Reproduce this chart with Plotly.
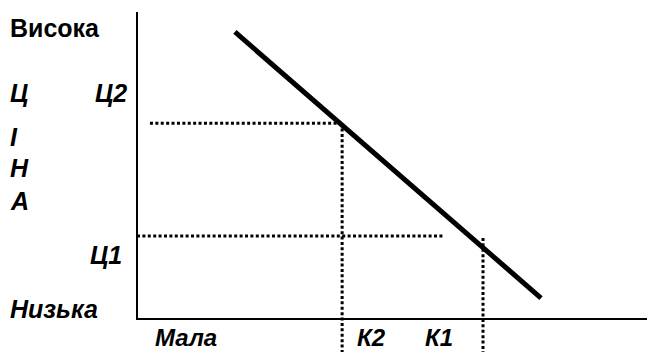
import plotly.graph_objects as go

# Abstract quantity (x) and price (y) units
axis_x = [0, 0, 10]
axis_y = [10, 0, 0]

demand_q = [1.89, 7.80]
demand_p = [9.35, 0.68]

# guide points
p2 = 6.38   # Ц2
q2 = 3.96   # К2
p1 = 2.70   # Ц1
q1 = 6.68   # К1
p1_line = 2.64
bottom = -1.2
upper_start = 0.25
lower_end = 5.91

y_labels = ["Висока", "Ц", "Ц2", "І", "Н", "А", "Ц1", "Низька"]
x_labels = ["Мала", "К2", "К1"]

dot = dict(color="black", width=3, dash="3px,2.4px")

fig = go.Figure()
fig.add_trace(go.Scatter(x=axis_x, y=axis_y, mode="lines",
                         line=dict(color="black", width=2), hoverinfo="skip"))
fig.add_trace(go.Scatter(x=[upper_start, q2], y=[p2, p2], mode="lines", line=dot))
fig.add_trace(go.Scatter(x=[q2, q2], y=[p2, bottom], mode="lines", line=dot))
fig.add_trace(go.Scatter(x=[0, lower_end], y=[p1, p1], mode="lines", line=dot))
fig.add_trace(go.Scatter(x=[q1, q1], y=[p1_line, bottom], mode="lines", line=dot))
fig.add_trace(go.Scatter(x=demand_q, y=demand_p, mode="lines",
                         line=dict(color="black", width=5)))

OFF = 8  # page body margin
W, H = 655 - OFF, 352 - OFF
font_b = dict(family="Liberation Sans, Arial", size=25, color="black")
font_x = dict(family="Liberation Sans, Arial", size=24, color="black")

def px(xp, yp):
    return (xp - OFF) / W, 1 - (yp - OFF) / H

# label pixel anchors in window coords (left, vertical center)
y_pos = [(8, 28), (8, 93), (93, 93), (8, 137), (8, 168), (8, 201), (88, 255), (8, 309)]
x_pos = [(153, 337), (355, 337), (423, 337)]

for i, (t, (a, b)) in enumerate(zip(y_labels, y_pos)):
    xx, yy = px(a, b)
    txt = f"<b>{t}</b>" if i == 0 else f"<b><i>{t}</i></b>"
    fig.add_annotation(x=xx, y=yy, xref="paper", yref="paper", text=txt,
                       showarrow=False, xanchor="left", yanchor="middle", font=font_b)
for t, (a, b) in zip(x_labels, x_pos):
    xx, yy = px(a, b)
    fig.add_annotation(x=xx, y=yy, xref="paper", yref="paper", text=f"<b><i>{t}</i></b>",
                       showarrow=False, xanchor="left", yanchor="middle", font=font_x)

ux, uy = 51.8, 30.7
fig.update_layout(
    width=W, height=H, margin=dict(l=0, r=0, t=0, b=0),
    paper_bgcolor="white", plot_bgcolor="white", showlegend=False,
    xaxis=dict(range=[-(137 - OFF) / ux, 10], visible=False, fixedrange=True),
    yaxis=dict(range=[-(352 - 319) / uy, 10 + (12 - OFF) / uy], visible=False, fixedrange=True),
)
fig.write_html("out.html")
